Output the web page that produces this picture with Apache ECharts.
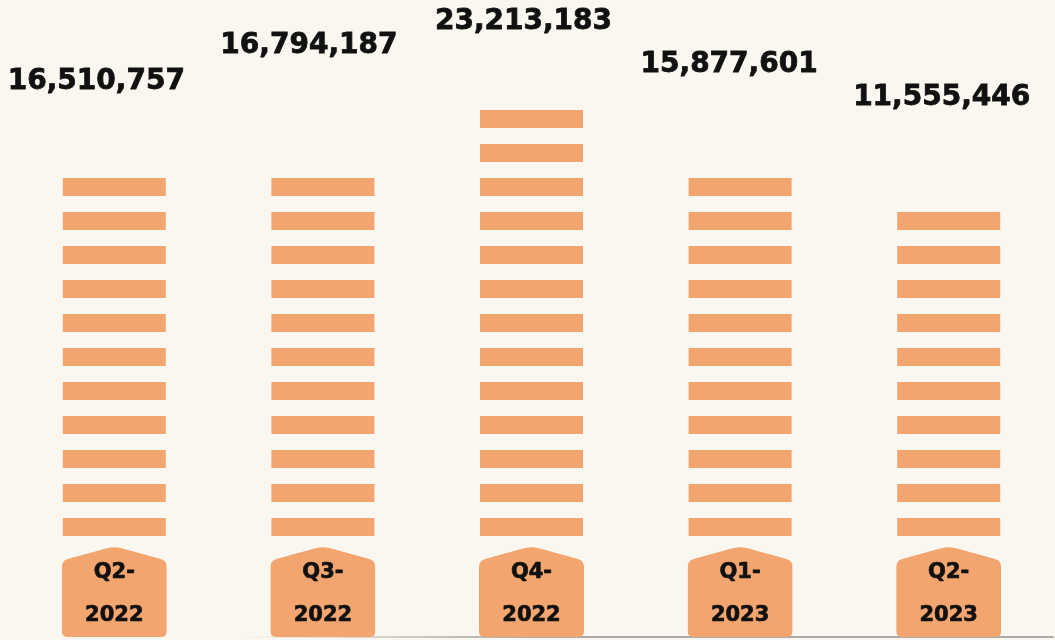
<!DOCTYPE html>
<html>
<head>
<meta charset="utf-8">
<title>Quarterly totals</title>
<script src="https://cdn.jsdelivr.net/npm/echarts@6/dist/echarts.min.js"></script>
<style>
  html, body { margin: 0; padding: 0; background: #FAF7F0; }
  #chart { width: 1055px; height: 640px; }
</style>
</head>
<body>
<div id="chart"></div>
<script>
// data
const quarters = ['Q2-2022', 'Q3-2022', 'Q4-2022', 'Q1-2023', 'Q2-2023']
const totals = [16510757, 16794187, 23213183, 15877601, 11555446]

const barColor = '#F2A56E'
const textColor = '#111111'

// label lifts (px) so the numbers sit staggered like the original
const labelShift = [[-18, -81], [-14, -117], [-8, -73], [-11, -98], [-7, -99]]

// house-shaped tag behind the quarter names
const tagSvg = '<svg xmlns="http://www.w3.org/2000/svg" width="105" height="90" viewBox="0 0 105 90">' +
  '<path d="M0 20 Q0 14 6 12 L46 1 Q52.5 -0.5 59 1 L99 12 Q105 14 105 20 L105 84 Q105 90 99 90 L6 90 Q0 90 0 84 Z" fill="' + barColor + '"/></svg>'
const tagImage = 'data:image/svg+xml;charset=utf-8,' + encodeURIComponent(tagSvg)

const chart = echarts.init(document.getElementById('chart'))

const option = {
  backgroundColor: '#FAF7F0',
  animation: false,
  grid: { left: 10, right: 2, top: 98, bottom: 104 },
  xAxis: [
    {
      type: 'category',
      data: quarters,
      axisLine: { show: false },
      axisTick: { show: false },
      axisLabel: {
        margin: 11,
        formatter: v => v.replace('-', '-\n'),
        color: textColor,
        fontFamily: 'DejaVu Sans',
        fontWeight: 'bold',
        fontSize: 21,
        lineHeight: 43,
        textBorderColor: textColor,
        textBorderWidth: 0.7,
        width: 105,
        height: 86,
        padding: [4, 0, 0, 0],
        align: 'center',
        backgroundColor: { image: tagImage }
      }
    },
    {
      type: 'category',
      data: quarters,
      position: 'bottom',
      offset: 101,
      axisTick: { show: false },
      axisLabel: { show: false },
      axisLine: {
        show: true,
        lineStyle: {
          width: 2,
          color: new echarts.graphic.LinearGradient(0, 0, 1, 0, [
            { offset: 0, color: 'rgba(170,170,170,0)' },
            { offset: 0.22, color: 'rgba(170,170,170,0)' },
            { offset: 0.5, color: 'rgba(170,170,170,1)' },
            { offset: 1, color: 'rgba(170,170,170,1)' }
          ])
        }
      }
    }
  ],
  yAxis: {
    type: 'value',
    show: false,
    min: -27000000,
    max: 27750000,
    startValue: -27000000,
    splitLine: { show: false }
  },
  series: [{
    type: 'pictorialBar',
    symbol: 'rect',
    symbolRepeat: true,
    symbolSize: [103, 18],
    symbolMargin: 8,
    itemStyle: { color: barColor },
    label: {
      show: true,
      position: 'top',
      distance: 0,
      color: textColor,
      fontFamily: 'DejaVu Sans',
      fontWeight: 'bold',
      fontSize: 28,
      lineHeight: 30,
      textBorderColor: textColor,
      textBorderWidth: 0.8,
      formatter: p => echarts.format.addCommas(p.value)
    },
    data: totals.map((v, i) => ({
      value: v,
      label: { offset: labelShift[i] }
    }))
  }]
}

chart.setOption(option)
</script>
</body>
</html>
